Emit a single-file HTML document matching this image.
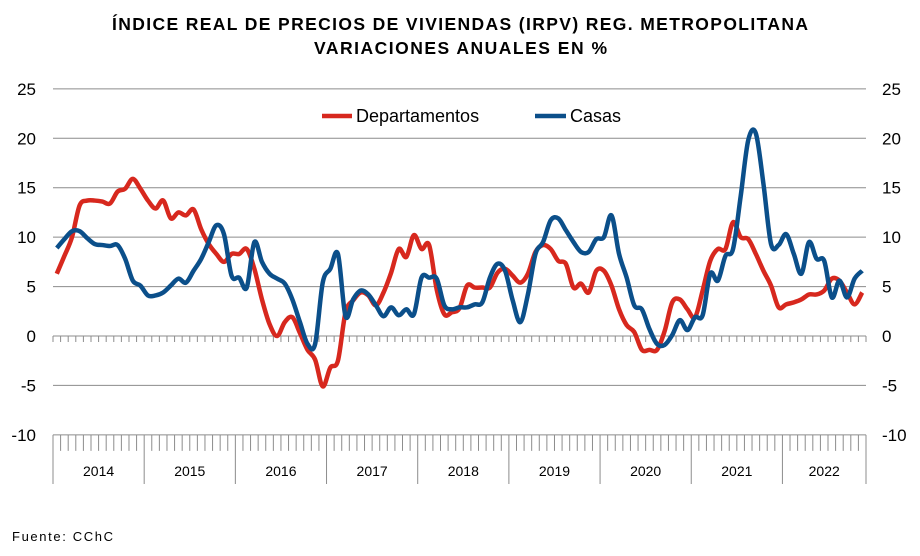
<!DOCTYPE html>
<html><head><meta charset="utf-8"><style>
body{margin:0;background:#fff;}
svg{display:block;font-family:"Liberation Sans",sans-serif;}
</style></head><body>
<svg id="chart" width="920" height="556" viewBox="0 0 920 556" xmlns="http://www.w3.org/2000/svg">
<text x="112" y="30" textLength="696" lengthAdjust="spacing" font-size="17.5" font-weight="bold">ÍNDICE REAL DE PRECIOS DE VIVIENDAS  (IRPV) REG. METROPOLITANA</text>
<text x="314" y="54" textLength="293" lengthAdjust="spacing" font-size="17.5" font-weight="bold">VARIACIONES  ANUALES  EN %</text>
<g id="grid"></g><g id="axes"></g><g id="series"></g>
<g>
<line x1="322" y1="116" x2="352" y2="116" stroke="#d7281e" stroke-width="4.5"/>
<text x="356" y="122" font-size="18">Departamentos</text>
<line x1="535" y1="116" x2="566" y2="116" stroke="#0b4f8a" stroke-width="4.5"/>
<text x="570" y="122" font-size="18">Casas</text>
</g>
<text x="12" y="541" textLength="101" lengthAdjust="spacing" font-size="13">Fuente:  CChC</text>
</svg>
<script>
const years=["2014","2015","2016","2017","2018","2019","2020","2021","2022"];
const yTicks=[25,20,15,10,5,0,-5,-10];
const departamentos=[6.3,8.1,10,13.2,13.7,13.7,13.6,13.4,14.6,14.9,15.9,14.9,13.7,12.9,13.7,11.9,12.5,12.2,12.8,10.8,9.3,8.3,7.5,8.3,8.3,8.8,6.8,3.7,1.2,0,1.4,1.9,0.3,-1.4,-2.4,-5.1,-3.2,-2.5,2.4,3.6,4.4,4.1,3.1,4.4,6.4,8.8,8,10.2,8.8,9.2,4.7,2.2,2.4,2.8,5.1,4.9,4.9,4.9,6.4,6.8,6.1,5.4,6.3,8.5,9.2,8.8,7.6,7.3,4.9,5.3,4.4,6.6,6.6,5.1,2.7,1.1,0.4,-1.4,-1.4,-1.4,0.5,3.4,3.7,2.7,1.9,4.6,7.6,8.8,8.8,11.5,10,9.8,8.3,6.6,5.1,2.9,3.2,3.4,3.7,4.2,4.2,4.6,5.8,5.6,4.4,3.2,4.4];
const casas=[8.9,9.8,10.6,10.6,9.9,9.3,9.2,9.1,9.2,7.8,5.6,5.1,4.1,4.1,4.4,5.1,5.8,5.4,6.6,7.8,9.5,11.2,10.3,6.1,5.9,4.9,9.5,7.5,6.3,5.8,5.3,3.7,1.4,-0.8,-0.8,5.4,6.8,8.3,2,3.7,4.6,4.2,3.1,2,2.9,2.1,2.7,2.2,5.9,5.9,5.8,3.1,2.7,2.9,2.9,3.2,3.4,5.9,7.3,6.6,3.6,1.4,4.2,8.3,9.5,11.7,11.9,10.7,9.5,8.5,8.5,9.8,10,12.2,8.3,5.9,3.1,2.7,0.7,-0.8,-0.9,0.1,1.6,0.6,1.9,2.1,6.3,5.6,8.1,8.8,14.1,19.8,20.5,15.4,9.3,9.2,10.3,8.3,6.3,9.5,7.8,7.6,3.9,5.6,3.9,5.8,6.6];
const NS="http://www.w3.org/2000/svg";
const X0=53,X1=866,nM=departamentos.length,mw=(X1-X0)/nM;
const yOf=v=>336-9.886*v;
const xOf=i=>X0+mw*(i+0.5);
function mk(tag,attrs,parent){const e=document.createElementNS(NS,tag);for(const k in attrs)e.setAttribute(k,attrs[k]);parent.appendChild(e);return e;}
const grid=document.getElementById('grid'),axes=document.getElementById('axes'),ser=document.getElementById('series');
yTicks.forEach(v=>{
  if(v!==0&&v!==-10){const l=mk('line',{x1:X0,x2:X1,y1:yOf(v),y2:yOf(v),stroke:'#8c8c8c','stroke-width':1},grid);
  
  }
  const t=mk('text',{x:36,y:yOf(v)+6,'text-anchor':'end','font-size':17},axes);t.textContent=v;
  
  
  const t2=mk('text',{x:882,y:yOf(v)+6,'font-size':17},axes);t2.textContent=v;
  
  
});
mk('line',{x1:X0,x2:X1,y1:yOf(0),y2:yOf(0),stroke:'#8c8c8c','stroke-width':1},axes);
mk('line',{x1:X0,x2:X1,y1:yOf(-10),y2:yOf(-10),stroke:'#8c8c8c','stroke-width':1},axes);
for(let i=0;i<=nM;i++){const x=X0+mw*i;
  mk('line',{x1:x,x2:x,y1:yOf(0),y2:yOf(0)+6,stroke:'#8c8c8c','stroke-width':1},axes);
  const yr=i%12===0||i===nM;
  mk('line',{x1:x,x2:x,y1:yOf(-10),y2:yr?484:yOf(-10)+16,stroke:'#8c8c8c','stroke-width':1},axes);
}
years.forEach((y,k)=>{const a=X0+mw*12*k,b=Math.min(X1,a+mw*12);
  const t=mk('text',{x:(a+b)/2,y:476,'text-anchor':'middle','font-size':14},axes);t.textContent=y;
  
  
});
function path(vals){const p=vals.map((v,i)=>[xOf(i),yOf(v)]);let d=`M${p[0][0]},${p[0][1]}`;
  for(let i=0;i<p.length-1;i++){const a=p[Math.max(0,i-1)],b=p[i],c=p[i+1],e=p[Math.min(p.length-1,i+2)];
    d+=` C${b[0]+(c[0]-a[0])/6},${b[1]+(c[1]-a[1])/6} ${c[0]-(e[0]-b[0])/6},${c[1]-(e[1]-b[1])/6} ${c[0]},${c[1]}`;}
  return d;}
const pd=mk('path',{d:path(departamentos),fill:'none',stroke:'#d7281e','stroke-width':4.5,'stroke-linejoin':'round'},ser);


const pc=mk('path',{d:path(casas),fill:'none',stroke:'#0b4f8a','stroke-width':4.5,'stroke-linejoin':'round'},ser);


</script>
</body></html>
